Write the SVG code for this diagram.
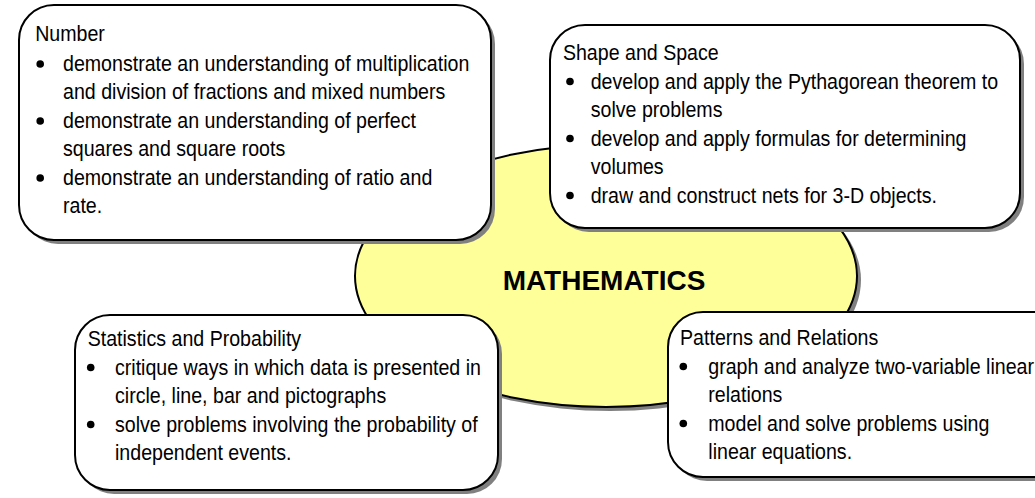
<svg xmlns="http://www.w3.org/2000/svg" width="1035" height="498" viewBox="0 0 1035 498">
<style>
.shadow{fill:#808080;stroke:none}
.box{fill:#ffffff;stroke:#000000;stroke-width:2}
.ell{fill:#ffff99;stroke:#000000;stroke-width:2}
.t{font-family:"Liberation Sans",Arial,sans-serif;font-size:21.5px;fill:#000000}
.title{font-family:"Liberation Sans",Arial,sans-serif;font-size:28px;font-weight:bold;fill:#000000}
.dot{fill:#000000}
</style>
<rect width="1035" height="498" fill="#ffffff"/>
<g id="mathematics">
<ellipse class="shadow" cx="610" cy="280" rx="251" ry="131"/>
<ellipse class="ell" cx="606" cy="276" rx="251" ry="131"/>
<text class="title" x="604" y="290" text-anchor="middle">MATHEMATICS</text>
</g>
<g id="connectors"></g>
<g id="number">
<rect class="shadow" x="23" y="9" width="472" height="235" rx="35" ry="35"/>
<rect class="box" x="19" y="5" width="472" height="235" rx="35" ry="35"/>
<circle class="dot" cx="40.2" cy="64" r="3.8"/>
<circle class="dot" cx="40.2" cy="121" r="3.8"/>
<circle class="dot" cx="40.2" cy="178" r="3.8"/>
<g transform="translate(63,0) scale(0.912,1)">
<text class="t" x="-30.5" y="41.5">Number</text>
<text class="t" x="0" y="71">demonstrate an understanding of multiplication</text>
<text class="t" x="0" y="99.5">and division of fractions and mixed numbers</text>
<text class="t" x="0" y="128">demonstrate an understanding of perfect</text>
<text class="t" x="0" y="156.5">squares and square roots</text>
<text class="t" x="0" y="185">demonstrate an understanding of ratio and</text>
<text class="t" x="0" y="213.5">rate.</text>
</g>
</g>
<g id="shape-space">
<rect class="shadow" x="554" y="29" width="470" height="203" rx="35" ry="35"/>
<rect class="box" x="550" y="25" width="470" height="203" rx="35" ry="35"/>
<circle class="dot" cx="570" cy="81.5" r="3.8"/>
<circle class="dot" cx="570" cy="138.5" r="3.8"/>
<circle class="dot" cx="570" cy="195.5" r="3.8"/>
<g transform="translate(590.7,0) scale(0.912,1)">
<text class="t" x="-30.5" y="60.5">Shape and Space</text>
<text class="t" x="0" y="89">develop and apply the Pythagorean theorem to</text>
<text class="t" x="0" y="117.5">solve problems</text>
<text class="t" x="0" y="146">develop and apply formulas for determining</text>
<text class="t" x="0" y="174.5">volumes</text>
<text class="t" x="0" y="203">draw and construct nets for 3-D objects.</text>
</g>
</g>
<g id="statistics-probability">
<rect class="shadow" x="79" y="319" width="423" height="175" rx="35" ry="35"/>
<rect class="box" x="75" y="315" width="423" height="175" rx="35" ry="35"/>
<circle class="dot" cx="90.7" cy="367.5" r="3.8"/>
<circle class="dot" cx="90.7" cy="424.5" r="3.8"/>
<g transform="translate(115,0) scale(0.912,1)">
<text class="t" x="-30" y="346.5">Statistics and Probability</text>
<text class="t" x="0" y="375">critique ways in which data is presented in</text>
<text class="t" x="0" y="403.5">circle, line, bar and pictographs</text>
<text class="t" x="0" y="432">solve problems involving the probability of</text>
<text class="t" x="0" y="460.5">independent events.</text>
</g>
</g>
<g id="patterns-relations">
<rect class="shadow" x="672" y="316" width="400" height="165" rx="35" ry="35"/>
<rect class="box" x="668" y="312" width="400" height="165" rx="35" ry="35"/>
<circle class="dot" cx="683.3" cy="366.5" r="3.8"/>
<circle class="dot" cx="683.3" cy="423.5" r="3.8"/>
<g transform="translate(708.3,0) scale(0.912,1)">
<text class="t" x="-31" y="345.5">Patterns and Relations</text>
<text class="t" x="0" y="374">graph and analyze two-variable linear</text>
<text class="t" x="0" y="402.5">relations</text>
<text class="t" x="0" y="431">model and solve problems using</text>
<text class="t" x="0" y="459.5">linear equations.</text>
</g>
</g>
</svg>
